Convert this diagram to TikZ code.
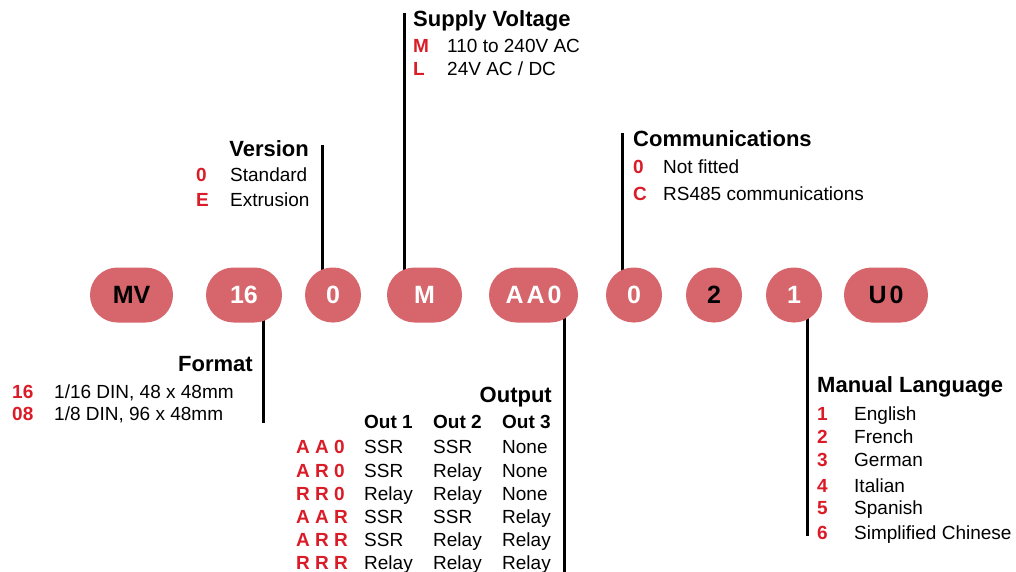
\documentclass[tikz,border=0pt]{standalone}
\usepackage{fontspec}
\setmainfont{Liberation Sans}
\usetikzlibrary{backgrounds}
\definecolor{pillc}{RGB}{214,102,107}
\definecolor{codec}{RGB}{218,28,40}
\begin{document}
\begin{tikzpicture}[x=1pt,y=-1pt,
  pill/.style={fill=pillc, rounded corners=27.5pt, minimum height=55pt, inner sep=0pt, font=\fontsize{25}{25}\selectfont\bfseries},
  title/.style={font=\fontsize{22}{24}\selectfont\bfseries, inner sep=0pt},
  code/.style={font=\fontsize{19}{22}\selectfont\bfseries, text=codec, inner sep=0pt, anchor=base west},
  txt/.style={font=\fontsize{19}{22}\selectfont, inner sep=0pt, anchor=base west},
  hdr/.style={font=\fontsize{19}{22}\selectfont\bfseries, inner sep=0pt, anchor=base west},
  lead/.style={line width=3pt, black}]
\useasboundingbox (0,0) rectangle (1016,572);

% pills
\node[pill, minimum width=83pt, text=black] (pMV) at (131.5,295) {MV};
\node[pill, minimum width=76pt, text=white] (p16) at (244,295) {16};
\node[pill, minimum width=56pt, text=white] (pVer) at (333,295) {0};
\node[pill, minimum width=75pt, text=white] (pSup) at (424.5,295) {M};
\node[pill, minimum width=89pt, text=white] (pOut) at (533.5,295) {A\hspace{3pt}A\hspace{3pt}0};
\node[pill, minimum width=56pt, text=white] (pCom) at (634,295) {0};
\node[pill, minimum width=56pt, text=black] (pTwo) at (714,295) {2};
\node[pill, minimum width=56pt, text=white] (pMan) at (794,295) {1};
\node[pill, minimum width=84pt, text=black] (pU) at (886,295) {U\hspace{3pt}0};

% leader end points
\coordinate (cVer) at (322,145);
\coordinate (cSup) at (404,13);
\coordinate (cCom) at (622,133);
\coordinate (cFmt) at (263,423);
\coordinate (cOut) at (564,575);
\coordinate (cMan) at (807,536);

\begin{pgfonlayer}{background}
\draw[lead] (cVer) -- (cVer |- pVer.center);
\draw[lead] (cSup) -- (cSup |- pSup.center);
\draw[lead] (cCom) -- (cCom |- pCom.center);
\draw[lead] (cFmt) -- (cFmt |- p16.center);
\draw[lead] (cOut) -- (cOut |- pOut.center);
\draw[lead] (cMan) -- (cMan |- pMan.center);
\end{pgfonlayer}

% Supply Voltage
\node[title, anchor=base west] (tSup) at (413,27) {Supply Voltage};
\node[code] (sM) at (413,53) {M};
\node[txt] (sMt) at (447,53) {110 to 240V AC};
\node[code] (sL) at (413,76) {L};
\node[txt] (sLt) at (447,76) {24V AC / DC};

% Version
\node[title, anchor=base east] (tVer) at (309,157) {Version};
\node[code] (v0) at (196,182) {0};
\node[txt] (v0t) at (230,182) {Standard};
\node[code] (vE) at (196,206) {E};
\node[txt] (vEt) at (230,206) {Extrusion};

% Communications
\node[title, anchor=base west] (tCom) at (633,147) {Communications};
\node[code] (c0) at (633,173) {0};
\node[txt] (c0t) at (663,173) {Not fitted};
\node[code] (cC) at (633,200) {C};
\node[txt] (cCt) at (663,200) {RS485 communications};

% Format
\node[title, anchor=base east] (tFmt) at (253,371) {Format};
\node[code] (f16) at (12,398) {16};
\node[txt] (f16t) at (54,398) {1/16 DIN, 48 x 48mm};
\node[code] (f08) at (12,420) {08};
\node[txt] (f08t) at (54,420) {1/8 DIN, 96 x 48mm};

% Output
\node[title, anchor=base east] (tOut) at (552,402) {Output};
\node[hdr] (h1) at (364,428) {Out 1};
\node[hdr] (h2) at (433,428) {Out 2};
\node[hdr] (h3) at (502,428) {Out 3};
\foreach \y/\c/\a/\b/\d [count=\i] in {
  453/A A 0/SSR/SSR/None,
  477/A R 0/SSR/Relay/None,
  500/R R 0/Relay/Relay/None,
  523/A A R/SSR/SSR/Relay,
  546/A R R/SSR/Relay/Relay,
  569/R R R/Relay/Relay/Relay}{
  \node[code] (oc\i) at (296,\y) {\c};
  \node[txt] (oa\i) at (364,\y) {\a};
  \node[txt] (ob\i) at (433,\y) {\b};
  \node[txt] (od\i) at (502,\y) {\d};
}

% Manual Language
\node[title, anchor=base west] (tMan) at (817,392) {Manual Language};
\foreach \y/\c/\t [count=\i] in {
  420/1/English,
  443/2/French,
  466/3/German,
  492/4/Italian,
  514/5/Spanish,
  539/6/Simplified Chinese}{
  \node[code] (mc\i) at (817,\y) {\c};
  \node[txt] (mt\i) at (854,\y) {\t};
}
\end{tikzpicture}
\end{document}
